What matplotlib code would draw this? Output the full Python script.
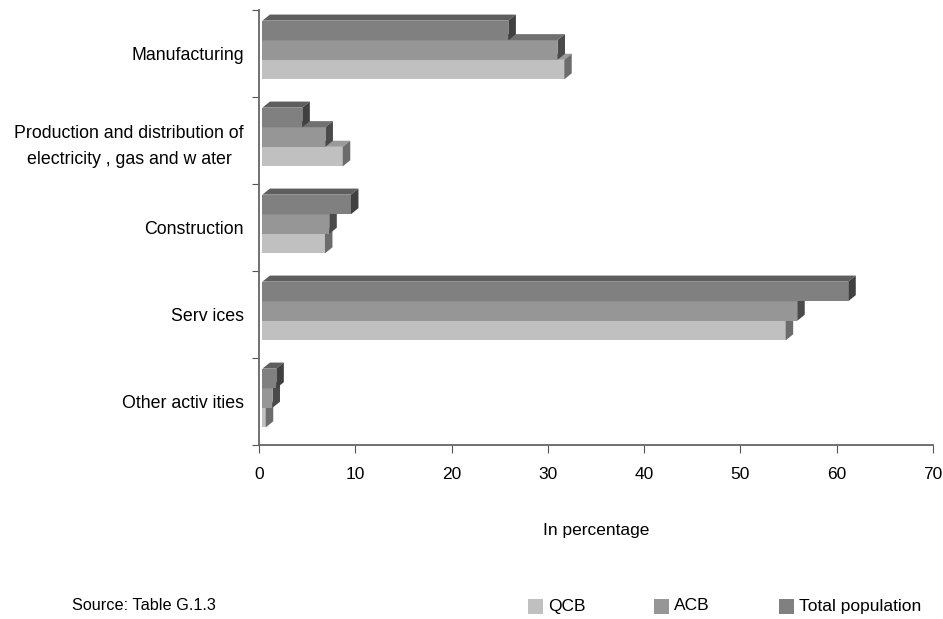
import numpy as np
import matplotlib.pyplot as plt
from matplotlib.patches import Polygon, Rectangle

categories = ['Manufacturing',
              'Production and distribution of\nelectricity , gas and w ater',
              'Construction', 'Serv ices', 'Other activ ities']
qcb = [31.7, 8.7, 6.85, 54.7, 0.7]
acb = [31.0, 6.9, 7.3, 55.9, 1.4]
total = [25.9, 4.5, 9.55, 61.2, 1.8]
series_names = ['QCB', 'ACB', 'Total population']
xticks = [0, 10, 20, 30, 40, 50, 60, 70]

plt.rcParams['font.family'] = ['Liberation Sans', 'DejaVu Sans']

# front, top, side colours per series
colors = {
    'QCB': ('#c0c0c0', '#9a9a9a', '#6c6c6c'),
    'ACB': ('#969696', '#707070', '#4a4a4a'),
    'Total population': ('#808080', '#5e5e5e', '#404040'),
}
offsets = {'QCB': 0.185, 'ACB': -0.04, 'Total population': -0.265}
bh = 0.225
dx, dy = 0.78, 0.07
x0 = 0.35

fig = plt.figure(figsize=(9.43, 6.19), dpi=100)
ax = fig.add_axes([259 / 943, 1 - 445 / 619, 674 / 943, 435 / 619])

y = np.arange(len(categories))
# lower bars first so upper ones cover their top faces
for name, vals in [('QCB', qcb), ('ACB', acb), ('Total population', total)]:
    front, top, side = colors[name]
    for yi, v in zip(y, vals):
        yc = yi + offsets[name]
        yt, yb = yc - bh / 2, yc + bh / 2
        ax.add_patch(Rectangle((x0, yt), v - x0, bh, facecolor=front, edgecolor='none', zorder=2))
        ax.add_patch(Polygon([(x0, yt), (v, yt), (v + dx, yt - dy), (x0 + dx, yt - dy)],
                             closed=True, facecolor=top, edgecolor='none', zorder=2))
        ax.add_patch(Polygon([(v, yb), (v, yt), (v + dx, yt - dy), (v + dx, yb - dy)],
                             closed=True, facecolor=side, edgecolor='none', zorder=2))

ax.set_xlim(0, 70)
ax.set_ylim(4.5, -0.5)
ax.set_xticks(xticks)
ax.set_xticklabels([str(t) for t in xticks], fontsize=12.5)
ax.set_yticks(np.arange(-0.5, 5, 1))
ax.set_yticklabels([])
ax.set_yticks(y, minor=True)
ax.set_yticklabels(categories, minor=True, fontsize=12.8, linespacing=1.65)
ax.tick_params(axis='y', which='minor', length=0, pad=10.8)
for lab in ax.get_yticklabels(minor=True):
    lab.set_multialignment('center')
ax.tick_params(axis='y', which='major', length=5, direction='out', color='#555555')
ax.tick_params(axis='x', length=6, direction='out', color='#555555', pad=10)

for s in ['top', 'right']:
    ax.spines[s].set_visible(False)
for s in ['left', 'bottom']:
    ax.spines[s].set_color('#666666')
    ax.spines[s].set_linewidth(1.3)

fig.text(596 / 943, 1 - 531 / 619, 'In percentage', ha='center', va='center', fontsize=12.5)
fig.text(72 / 943, 1 - 606 / 619, 'Source: Table G.1.3', ha='left', va='center', fontsize=11.7)

leg_x = [528, 654, 779]
for name, lx in zip(series_names, leg_x):
    fig.add_artist(Rectangle((lx / 943, 1 - 614 / 619), 15 / 943, 15 / 619,
                             transform=fig.transFigure, facecolor=colors[name][0], edgecolor='none'))
    fig.text((lx + 20) / 943, 1 - 606 / 619, name, ha='left', va='center', fontsize=12.5)

fig.savefig('out.png', dpi=100)
